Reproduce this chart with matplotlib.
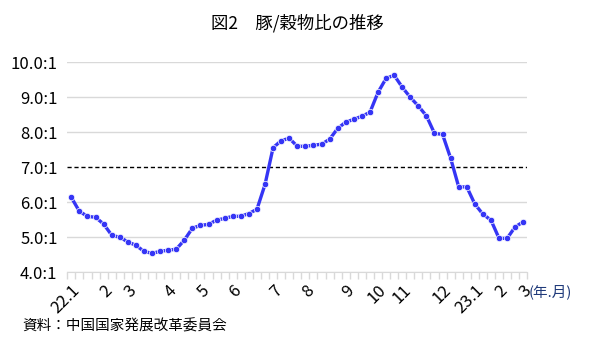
import matplotlib
matplotlib.use("Agg")
import matplotlib.pyplot as plt
import numpy as np

plt.rcParams['font.family'] = ['Noto Sans CJK JP', 'DejaVu Sans']

# weekly pig/grain price ratio, Jan 2022 - Mar 2023
ratio = [6.14, 5.74, 5.60, 5.57, 5.38, 5.06, 5.00, 4.87, 4.77, 4.60,
         4.54, 4.60, 4.63, 4.66, 4.92, 5.26, 5.34, 5.37, 5.49, 5.54,
         5.60, 5.60, 5.68, 5.80, 6.51, 7.56, 7.76, 7.83, 7.60, 7.60,
         7.63, 7.66, 7.80, 8.11, 8.29, 8.37, 8.46, 8.57, 9.14, 9.54,
         9.63, 9.29, 9.00, 8.75, 8.47, 7.97, 7.94, 7.26, 6.44, 6.44,
         5.95, 5.66, 5.49, 4.97, 4.97, 5.30, 5.44]

# first week of each month -> label
month_idx = [0, 4, 7, 12, 16, 20, 25, 29, 34, 38, 41, 46, 50, 53, 56]
month_lbl = ['22.1', '2', '3', '4', '5', '6', '7', '8', '9', '10', '11', '12',
             '23.1', '2', '3']

yticks = [4, 5, 6, 7, 8, 9, 10]
break_even = 7.0

fig = plt.figure(figsize=(5.94, 3.52), dpi=100)
ax = fig.add_axes([67.3 / 594, 1 - 272.3 / 352, 460 / 594, 210 / 352])

x = np.arange(len(ratio))
ax.plot(x, ratio, color='#3535F5', lw=2.4, marker='o', ms=4.6,
        mec='white', mew=0.5, zorder=3)

# grid
for v in yticks:
    if v == break_even:
        continue
    ax.axhline(v, color='#d9d9d9', lw=1, zorder=1)
ax.axhline(break_even, color='black', lw=1, ls=(0, (3, 2)), zorder=2)

ax.set_xlim(-0.5, len(ratio) - 0.5)
ax.set_ylim(4, 10)
ax.set_yticks(yticks)
ax.set_yticklabels([f'{v:.1f}:1' for v in yticks], fontsize=12)
ax.tick_params(axis='y', length=0, pad=7)

ax.set_xticks(month_idx)
ax.set_xticklabels(month_lbl, fontsize=12, rotation=45, ha='right',
                   va='top', rotation_mode='anchor')
ax.tick_params(axis='x', which='major', length=0, pad=7)
ax.set_xticks(np.arange(len(ratio) + 1) - 0.5, minor=True)
ax.tick_params(axis='x', which='minor', length=5, color='#d9d9d9', width=1)

for s in ['top', 'right', 'left']:
    ax.spines[s].set_visible(False)
ax.spines['bottom'].set_color('#d9d9d9')

fig.text(0.5, 1 - 23 / 352, '図2\u3000豚/穀物比の推移', ha='center', va='center',
         fontsize=12.5)
fig.text(529 / 594, 1 - 292 / 352, '(年.月)', ha='left', va='center',
         fontsize=10.5, color='#1F3A7A')
fig.text(22 / 594, 1 - 326 / 352, '資料：中国国家発展改革委員会', ha='left',
         va='center', fontsize=10.5)

fig.savefig('out.png', dpi=100)
